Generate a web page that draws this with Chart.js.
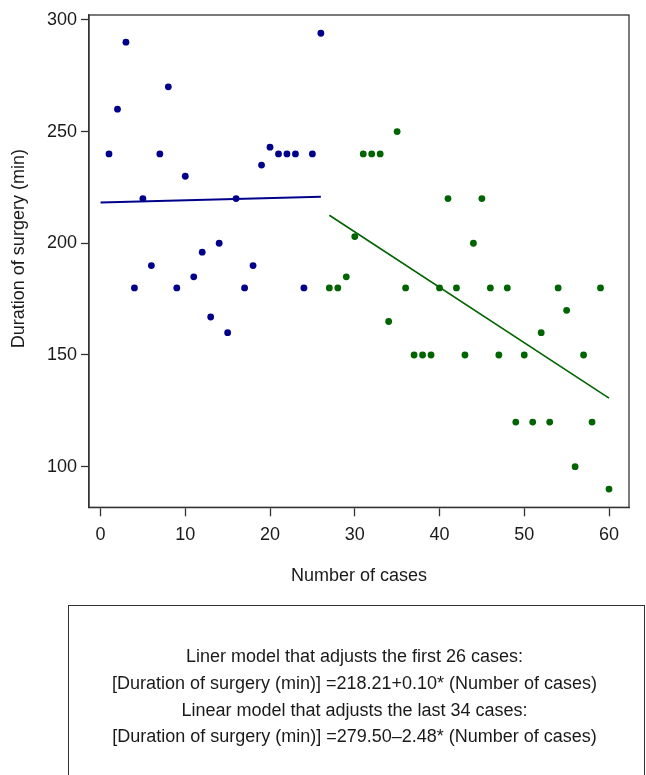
<!DOCTYPE html>
<html>
<head>
<meta charset="utf-8">
<script src="https://cdn.jsdelivr.net/npm/chart.js@4.4.1/dist/chart.umd.min.js"></script>
<style>
html, body { margin: 0; padding: 0; background: #fff; }
#wrap { position: relative; width: 646px; height: 775px; overflow: hidden; }
#c { position: absolute; left: 0; top: 0; }
#note {
  position: absolute; left: 68px; top: 605px; width: 577px; height: 220px;
  border: 1.5px solid #333; box-sizing: border-box;
  font-family: "Liberation Sans", Arial, sans-serif; font-size: 18px;
  line-height: 26.8px; color: #1a1a1a; text-align: center;
  padding-top: 37px; padding-right: 4px;
}
</style>
</head>
<body>
<div id="wrap">
  <canvas id="c" width="646" height="775"></canvas>
  <div id="note">
    <div>Liner model that adjusts the first 26 cases:</div>
    <div>[Duration of surgery (min)] =218.21+0.10* (Number of cases)</div>
    <div>Linear model that adjusts the last 34 cases:</div>
    <div>[Duration of surgery (min)] =279.50–2.48* (Number of cases)</div>
  </div>
</div>
<script>
// ---- data ----
const casesFirst = [1,2,3,4,5,6,7,8,9,10,11,12,13,14,15,16,17,18,19,20,21,22,23,24,25,26];
const durationFirst = [240,260,290,180,220,190,240,270,180,230,185,196,167,200,160,220,180,190,235,243,240,240,240,180,240,294];
const casesLast = [27,28,29,30,31,32,33,34,35,36,37,38,39,40,41,42,43,44,45,46,47,48,49,50,51,52,53,54,55,56,57,58,59,60];
const durationLast = [180,180,185,203,240,240,240,165,250,180,150,150,150,180,220,180,150,200,220,180,150,180,120,150,120,160,120,180,170,100,150,120,180,90];
const fitFirstCases = [0, 26];
const fitFirstDuration = [218.21, 220.81];
const fitLastCases = [27, 60];
const fitLastDuration = [212.54, 130.70];
const xTickValues = [0, 10, 20, 30, 40, 50, 60];
const yTickValues = [100, 150, 200, 250, 300];
const xTitle = 'Number of cases';
const yTitle = 'Duration of surgery (min)';

const pairs = (xs, ys) => xs.map((x, i) => ({ x: x, y: ys[i] }));

const BLUE = '#00008B', GREEN = '#006400', AXIS = '#333333', TEXT = '#1a1a1a';
const FONT = '"Liberation Sans", Arial, sans-serif';

Chart.defaults.font.family = FONT;
Chart.defaults.font.size = 18;
Chart.defaults.color = TEXT;

const frame = {
  id: 'frame',
  beforeDatasetsDraw(chart) {
    const { ctx, chartArea: a } = chart;
    ctx.save();
    ctx.strokeStyle = AXIS;
    ctx.lineWidth = 1.3;
    ctx.strokeRect(a.left, a.top, a.right - a.left, a.bottom - a.top);
    ctx.restore();
  }
};

new Chart(document.getElementById('c'), {
  type: 'scatter',
  data: {
    datasets: [
      { data: pairs(casesFirst, durationFirst), pointRadius: 3.4, pointBackgroundColor: BLUE, pointBorderWidth: 0, borderColor: BLUE, showLine: false },
      { data: pairs(casesLast, durationLast), pointRadius: 3.4, pointBackgroundColor: GREEN, pointBorderWidth: 0, borderColor: GREEN, showLine: false },
      { data: pairs(fitFirstCases, fitFirstDuration), showLine: true, pointRadius: 0, borderColor: BLUE, borderWidth: 2, fill: false },
      { data: pairs(fitLastCases, fitLastDuration), showLine: true, pointRadius: 0, borderColor: GREEN, borderWidth: 1.6, fill: false }
    ]
  },
  options: {
    responsive: false,
    animation: false,
    events: [],
    devicePixelRatio: 1,
    layout: { padding: { left: 0, top: 15, right: 17, bottom: 188.6 } },
    plugins: { legend: { display: false }, tooltip: { enabled: false } },
    scales: {
      x: {
        type: 'linear', min: -1.36, max: 62.36,
        afterBuildTicks: s => { s.ticks = xTickValues.map(v => ({ value: v })); },
        afterFit: s => { s.height = 79.1; },
        grid: { display: true, drawOnChartArea: false, drawTicks: true, tickLength: 9, tickWidth: 1.3, tickColor: AXIS },
        border: { display: true, color: AXIS, width: 1.3 },
        ticks: { padding: 8.4, color: TEXT, font: { size: 18 }, maxRotation: 0, autoSkip: false },
        title: { display: true, text: xTitle, color: TEXT, font: { size: 18 }, padding: { top: 0, bottom: 0 } }
      },
      y: {
        type: 'linear', min: 81.84, max: 302.16,
        afterBuildTicks: s => { s.ticks = yTickValues.map(v => ({ value: v })); },
        afterFit: s => { s.width = 89; },
        grid: { display: true, drawOnChartArea: false, drawTicks: true, tickLength: 8, tickWidth: 1.3, tickColor: AXIS },
        border: { display: true, color: AXIS, width: 1.3 },
        ticks: { padding: 4, color: TEXT, font: { size: 18 }, autoSkip: false },
        title: { display: true, text: '     ' + yTitle, color: TEXT, font: { size: 18 }, padding: { top: 8, bottom: 0 } }
      }
    }
  },
  plugins: [frame]
});
</script>
</body>
</html>
